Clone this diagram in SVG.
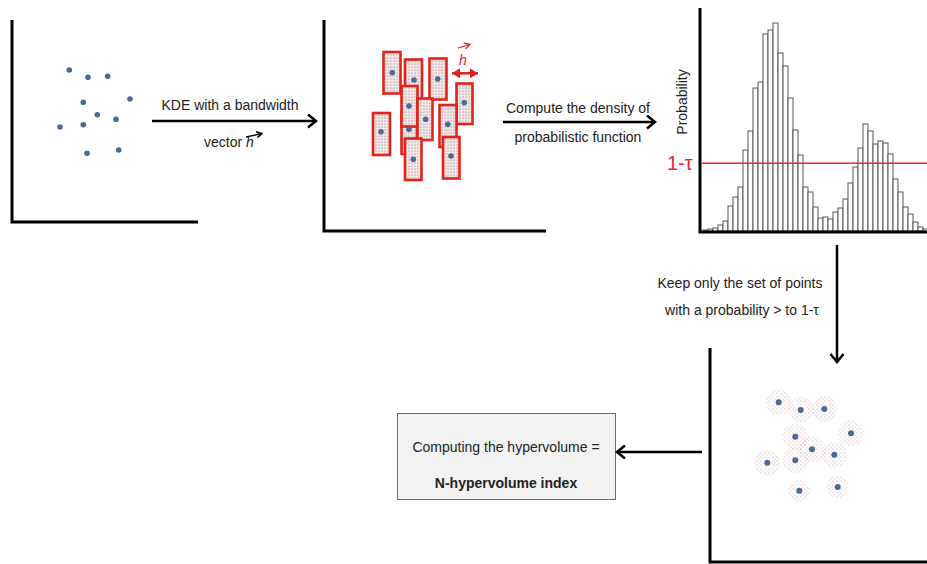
<svg xmlns="http://www.w3.org/2000/svg" width="927" height="564" viewBox="0 0 927 564">
<style>
.axis{stroke:#000;stroke-width:3;fill:none}
.conn{stroke:#000;stroke-width:2.5;fill:none}
.lbl{font-family:"Liberation Sans",Arial,sans-serif;font-size:14px;fill:#222}
.dot{fill:#4a6a9c}
.kr{fill:url(#speck);stroke:#e2231a;stroke-width:2.6}
.bar{fill:#fff;stroke:#555;stroke-width:1}
.halo{fill:url(#halo);opacity:0.75}
</style>
<defs>
<pattern id="speck" width="3" height="3" patternUnits="userSpaceOnUse">
<rect width="3" height="3" fill="#f7e6e6"/>
<circle cx="1" cy="1" r="0.6" fill="#7d7379"/>
</pattern>
<pattern id="halo" width="4" height="4" patternUnits="userSpaceOnUse">
<circle cx="1" cy="1" r="0.55" fill="#d0605a"/>
<circle cx="3" cy="3" r="0.5" fill="#8294ad"/>
</pattern>
<marker id="chev" markerWidth="12" markerHeight="16" refX="10" refY="8" orient="auto" markerUnits="userSpaceOnUse">
<path d="M2,1.5 L10,8 L2,14.5" fill="none" stroke="#000" stroke-width="2.5"/>
</marker>
<marker id="redHead" markerWidth="10" markerHeight="10" refX="8" refY="5" orient="auto-start-reverse" markerUnits="userSpaceOnUse">
<path d="M0,0 L8,5 L0,10 Z" fill="#e2231a"/>
</marker>
<marker id="tinyRed" markerWidth="7" markerHeight="7" refX="6" refY="3.5" orient="auto" markerUnits="userSpaceOnUse">
<path d="M0.5,0.5 L6,3.5 L0.5,6.5" fill="none" stroke="#e2231a" stroke-width="1.3"/>
</marker>
<marker id="tinyBlack" markerWidth="7" markerHeight="7" refX="6" refY="3.5" orient="auto" markerUnits="userSpaceOnUse">
<path d="M0.5,0.5 L6,3.5 L0.5,6.5" fill="none" stroke="#000" stroke-width="1.5"/>
</marker>
</defs>

<g id="panel-points">
<path class="axis" d="M12,20 V222 H198"/>
<circle class="dot" cx="69.3" cy="70" r="2.8"/>
<circle class="dot" cx="88" cy="77.3" r="2.8"/>
<circle class="dot" cx="107.7" cy="76.3" r="2.8"/>
<circle class="dot" cx="130" cy="99" r="2.8"/>
<circle class="dot" cx="83.3" cy="102.3" r="2.8"/>
<circle class="dot" cx="97.3" cy="114.7" r="2.8"/>
<circle class="dot" cx="116" cy="119.3" r="2.8"/>
<circle class="dot" cx="60" cy="127" r="2.8"/>
<circle class="dot" cx="83.3" cy="124.7" r="2.8"/>
<circle class="dot" cx="87" cy="153.3" r="2.8"/>
<circle class="dot" cx="118.7" cy="150" r="2.8"/>
</g>

<g id="panel-kde">
<path class="axis" d="M324,20 V231 H546"/>
<rect class="kr" x="383.5" y="52" width="17" height="41.5"/>
<rect class="kr" x="405" y="59.5" width="17" height="40.5"/>
<rect class="kr" x="429.5" y="58.5" width="17" height="41"/>
<rect class="kr" x="456.5" y="83.5" width="16" height="40.5"/>
<rect class="kr" x="373" y="113" width="17" height="42"/>
<rect class="kr" x="401.5" y="112" width="15.5" height="42"/>
<rect class="kr" x="401.5" y="86" width="16" height="40.5"/>
<rect class="kr" x="417.5" y="98.5" width="15" height="41.5"/>
<rect class="kr" x="439.5" y="105" width="17" height="42"/>
<rect class="kr" x="405" y="138.5" width="16.5" height="41.5"/>
<rect class="kr" x="443" y="137" width="16.5" height="41.5"/>
<circle class="dot" cx="392.3" cy="72.7" r="2.8"/>
<circle class="dot" cx="414" cy="80" r="2.8"/>
<circle class="dot" cx="437.7" cy="79" r="2.8"/>
<circle class="dot" cx="464.3" cy="102.7" r="2.8"/>
<circle class="dot" cx="409" cy="106" r="2.8"/>
<circle class="dot" cx="425.7" cy="119.3" r="2.8"/>
<circle class="dot" cx="381" cy="131.7" r="2.8"/>
<circle class="dot" cx="447.7" cy="124.3" r="2.8"/>
<circle class="dot" cx="409" cy="129.3" r="2.8"/>
<circle class="dot" cx="413.3" cy="159.3" r="2.8"/>
<circle class="dot" cx="451" cy="156" r="2.8"/>
<path d="M452,73.3 H478" stroke="#e2231a" stroke-width="2.5" fill="none" marker-start="url(#redHead)" marker-end="url(#redHead)"/>
<path d="M458,48 L470,44.5" stroke="#e2231a" stroke-width="1.3" fill="none" marker-end="url(#tinyRed)"/>
<text x="459" y="65" font-family="'Liberation Sans',Arial,sans-serif" font-size="14" font-style="italic" fill="#e2231a">h</text>
</g>

<g id="panel-histogram">
<g id="bars">
<rect class="bar" x="703" y="230" width="5" height="1"/>
<rect class="bar" x="708" y="229" width="5" height="2"/>
<rect class="bar" x="713" y="228" width="5" height="3"/>
<rect class="bar" x="718" y="225" width="5" height="6"/>
<rect class="bar" x="723" y="221" width="5" height="10"/>
<rect class="bar" x="728" y="206" width="5" height="25"/>
<rect class="bar" x="733" y="197" width="5" height="34"/>
<rect class="bar" x="738" y="187" width="5" height="44"/>
<rect class="bar" x="743" y="150" width="5" height="81"/>
<rect class="bar" x="748" y="131" width="5" height="100"/>
<rect class="bar" x="753" y="88" width="5" height="143"/>
<rect class="bar" x="758" y="82" width="5" height="149"/>
<rect class="bar" x="763" y="34" width="5" height="197"/>
<rect class="bar" x="768" y="30" width="5" height="201"/>
<rect class="bar" x="773" y="23" width="5" height="208"/>
<rect class="bar" x="778" y="53" width="5" height="178"/>
<rect class="bar" x="783" y="66" width="5" height="165"/>
<rect class="bar" x="788" y="98" width="5" height="133"/>
<rect class="bar" x="793" y="130" width="5" height="101"/>
<rect class="bar" x="798" y="155" width="5" height="76"/>
<rect class="bar" x="803" y="187" width="5" height="44"/>
<rect class="bar" x="808" y="192" width="5" height="39"/>
<rect class="bar" x="813" y="207" width="5" height="24"/>
<rect class="bar" x="818" y="218" width="5" height="13"/>
<rect class="bar" x="823" y="217" width="5" height="14"/>
<rect class="bar" x="828" y="219" width="5" height="12"/>
<rect class="bar" x="833" y="212" width="5" height="19"/>
<rect class="bar" x="838" y="208" width="5" height="23"/>
<rect class="bar" x="843" y="199" width="5" height="32"/>
<rect class="bar" x="848" y="183" width="5" height="48"/>
<rect class="bar" x="853" y="167" width="5" height="64"/>
<rect class="bar" x="858" y="148" width="5" height="83"/>
<rect class="bar" x="863" y="124" width="5" height="107"/>
<rect class="bar" x="868" y="131" width="5" height="100"/>
<rect class="bar" x="873" y="144" width="5" height="87"/>
<rect class="bar" x="878" y="141" width="5" height="90"/>
<rect class="bar" x="883" y="143" width="5" height="88"/>
<rect class="bar" x="888" y="154" width="5" height="77"/>
<rect class="bar" x="893" y="179" width="5" height="52"/>
<rect class="bar" x="898" y="192" width="5" height="39"/>
<rect class="bar" x="903" y="207" width="5" height="24"/>
<rect class="bar" x="908" y="214" width="5" height="17"/>
<rect class="bar" x="913" y="222" width="5" height="9"/>
<rect class="bar" x="918" y="227" width="5" height="4"/>
<rect class="bar" x="923" y="229" width="5" height="2"/>
</g>
<path class="axis" d="M700,8 V232 H927"/>
<line x1="702" y1="163.3" x2="927" y2="163.3" stroke="#e8262a" stroke-width="1.6"/>
<text x="667" y="170" font-family="'Liberation Sans',Arial,sans-serif" font-size="20" fill="#e8262a">1-τ</text>
<text class="lbl" transform="translate(687,102) rotate(-90)" text-anchor="middle" font-size="15">Probability</text>
</g>

<g id="panel-selected">
<path class="axis" d="M710,348 V562 H927"/>
<circle class="halo" cx="778.7" cy="402.3" r="13"/>
<circle class="halo" cx="800.7" cy="410" r="13"/>
<circle class="halo" cx="824.3" cy="409" r="13"/>
<circle class="halo" cx="851" cy="433.3" r="13"/>
<circle class="halo" cx="795.3" cy="436.7" r="13"/>
<circle class="halo" cx="812" cy="449.3" r="13"/>
<circle class="halo" cx="834.3" cy="454.7" r="13"/>
<circle class="halo" cx="767.3" cy="462.7" r="13"/>
<circle class="halo" cx="795.3" cy="460.3" r="13"/>
<circle class="halo" cx="799.3" cy="490.7" r="11"/>
<circle class="halo" cx="837.7" cy="487" r="11"/>
<circle class="dot" cx="778.7" cy="402.3" r="3"/>
<circle class="dot" cx="800.7" cy="410" r="3"/>
<circle class="dot" cx="824.3" cy="409" r="3"/>
<circle class="dot" cx="851" cy="433.3" r="3"/>
<circle class="dot" cx="795.3" cy="436.7" r="3"/>
<circle class="dot" cx="812" cy="449.3" r="3"/>
<circle class="dot" cx="834.3" cy="454.7" r="3"/>
<circle class="dot" cx="767.3" cy="462.7" r="3"/>
<circle class="dot" cx="795.3" cy="460.3" r="3"/>
<circle class="dot" cx="799.3" cy="490.7" r="3"/>
<circle class="dot" cx="837.7" cy="487" r="3"/>
</g>

<g id="result-box">
<rect x="397.5" y="413.5" width="218" height="86" fill="#f2f2f2" stroke="#6b6b6b" stroke-width="1"/>
<text class="lbl" x="506" y="452" text-anchor="middle">Computing the hypervolume =</text>
<text class="lbl" x="506" y="488" text-anchor="middle" font-weight="bold">N-hypervolume index</text>
</g>

<g id="connectors">
<line class="conn" x1="152" y1="121" x2="316" y2="121" marker-end="url(#chev)"/>
<text class="lbl" x="230" y="110" text-anchor="middle">KDE with a bandwidth</text>
<text class="lbl" x="204" y="147">vector <tspan font-style="italic">h</tspan></text>
<path d="M246,137 L262,133.5" stroke="#000" stroke-width="1.3" fill="none" marker-end="url(#tinyBlack)"/>
<line class="conn" x1="503" y1="122" x2="655" y2="122" marker-end="url(#chev)"/>
<text class="lbl" x="578" y="113" text-anchor="middle">Compute the density of</text>
<text class="lbl" x="578" y="142" text-anchor="middle">probabilistic function</text>
<line class="conn" x1="837" y1="245" x2="837" y2="362" marker-end="url(#chev)"/>
<text class="lbl" x="740" y="288" text-anchor="middle">Keep only the set of points</text>
<text class="lbl" x="742" y="315" text-anchor="middle">with a probability &gt; to 1-τ</text>
<line class="conn" x1="702" y1="452" x2="617" y2="452" marker-end="url(#chev)"/>
</g>
</svg>
